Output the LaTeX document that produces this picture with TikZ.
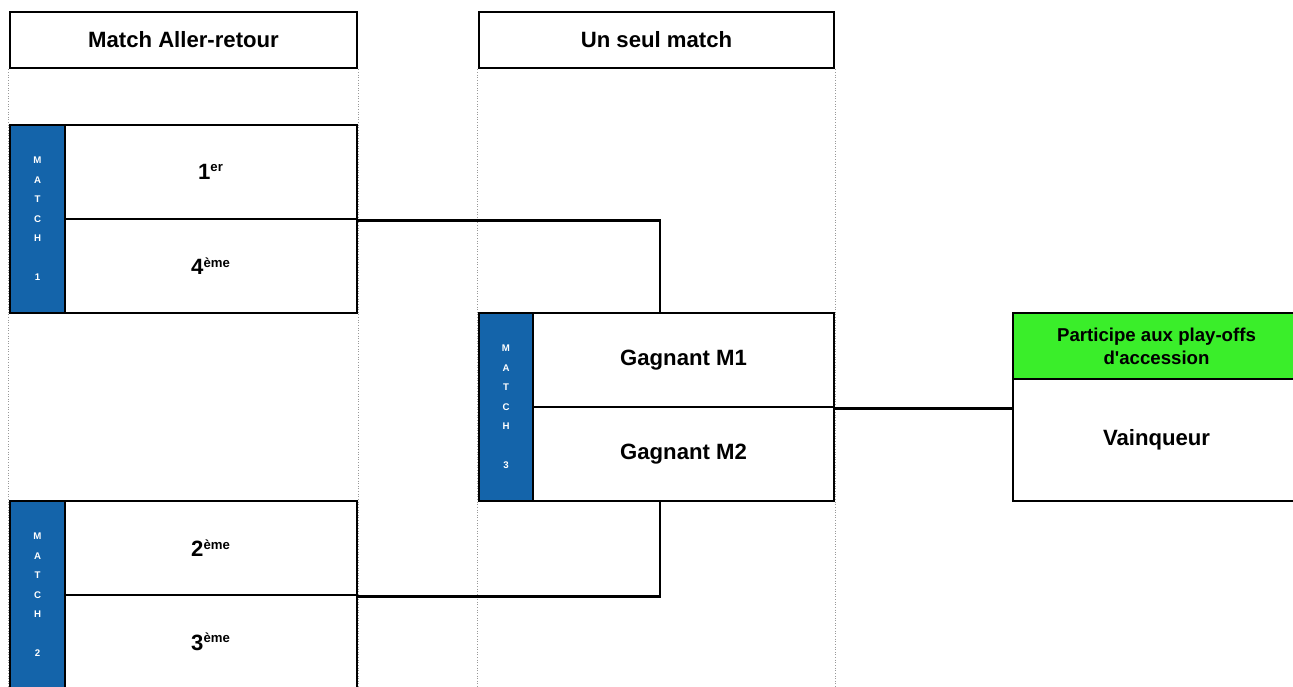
\documentclass[tikz,border=0pt]{standalone}
\usepackage{fontspec}
\setmainfont{Liberation Sans}[Ligatures=TeXOff]
\usepackage{xcolor}
\usetikzlibrary{positioning,calc}
\definecolor{mblue}{HTML}{1464AA}
\definecolor{mgreen}{HTML}{3AEE2A}
\newcommand{\rk}[1]{\textsuperscript{\fontsize{7.5}{9}\selectfont #1}}

\begin{document}
\begin{tikzpicture}[x=0.02cm, y=-0.02cm, font=\bfseries\fontsize{12.6}{15}\selectfont,
  head/.style={draw, line width=1.6pt, fill=white, inner sep=0pt, minimum height=1.12cm},
  cell/.style={draw, line width=1.6pt, fill=white, inner sep=0pt, minimum width=5.84cm, minimum height=1.88cm},
  bar/.style={draw, line width=1.6pt, fill=mblue, text=white, inner sep=0pt, align=center,
    minimum width=1.1cm, minimum height=3.76cm, font=\bfseries\fontsize{5.5}{11.1}\selectfont},
  guide/.style={gray!80, densely dotted, line width=0.5pt},
  link/.style={line width=1.6pt}]
\useasboundingbox (0,0) rectangle (1293,686);
% column heads
\node[head, minimum width=6.94cm] (head1) at (183.5,40) {Match Aller-retour};
\node[head, minimum width=7.1cm] (head2) at (656.5,40) {Un seul match};
\foreach \n in {head1,head2} {
  \draw[guide] (\n.south west) -- ++(0,625);
  \draw[guide] (\n.south east) -- ++(0,625);
}
% match 1
\node[bar] (bar1) at (37.5,219) {M\\A\\T\\C\\H\\~\\1};
\node[cell] (p1) at (211,172) {1\rk{er}};
\node[cell] (p4) at (211,266) {4\rk{ème}};
% match 2
\node[bar] (bar2) at (37.5,595) {M\\A\\T\\C\\H\\~\\2};
\node[cell] (p2) at (211,548) {2\rk{ème}};
\node[cell] (p3) at (211,642) {3\rk{ème}};
% match 3
\node[bar, minimum width=1.08cm] (bar3) at (506,407) {M\\A\\T\\C\\H\\~\\3};
\node[cell, minimum width=6.02cm] (g1) at (683.5,360) {Gagnant M1};
\node[cell, minimum width=6.02cm] (g2) at (683.5,454) {Gagnant M2};
% winner
\node[cell, fill=mgreen, minimum width=5.74cm, minimum height=1.32cm, align=center,
  font=\bfseries\fontsize{10.6}{13}\selectfont] (acc) at (1156.5,346) {Participe aux play-offs\\d'accession};
\node[cell, minimum width=5.74cm, minimum height=2.44cm] (win) at (1156.5,440) {Vainqueur};
% links
\coordinate (j1) at (660,313);
\coordinate (j2) at (660,501);
\draw[link] (p1.south east) -| (j1);
\draw[link] (p2.south east) -| (j2);
\draw[link] (g1.south east) -- (g1.south east -| win.west);
\end{tikzpicture}
\end{document}
